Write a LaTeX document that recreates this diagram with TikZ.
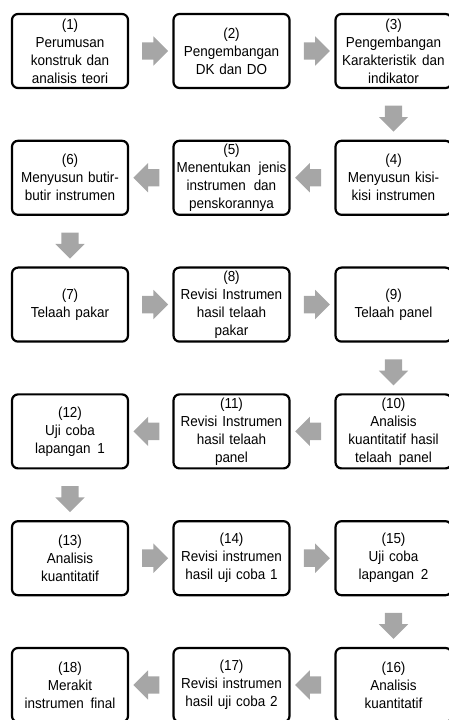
\documentclass[tikz,border=0pt]{standalone}
\usepackage{fontspec}
\setmainfont{Liberation Sans}[FakeStretch=0.93]
\usetikzlibrary{shapes.arrows,calc}
\definecolor{arrgray}{HTML}{A6A6A6}
\tikzset{
  stepbox/.style={draw=black, line width=2.2pt, rounded corners=6pt,
    minimum width=116pt, minimum height=74pt, text width=114pt,
    align=center, inner sep=0pt, font=\fontsize{14.5}{18}\selectfont},
  blk/.style={single arrow, fill=arrgray, draw=none, minimum height=26pt,
    minimum width=29pt, single arrow head extend=6pt, inner xsep=2pt,
    inner ysep=8.5pt, anchor=center}
}
\newcommand{\blkarrow}[3]{\node[blk, rotate=#3] (#1to#2) at ($(#1)!0.5!(#2)$) {};}
\begin{document}
\begin{tikzpicture}[x=1pt,y=1pt]
\useasboundingbox (0,0) rectangle (449,720);
\clip (0,0) rectangle (449,720);
\def\xa{70}\def\xb{231.5}\def\xc{393.5}
% row 1
\node[stepbox] (b1) at (\xa,669) {(1)\\Perumusan\\konstruk dan\\analisis teori};
\node[stepbox] (b2) at (\xb,669) {(2)\\Pengembangan\\DK dan DO};
\node[stepbox] (b3) at (\xc,669) {(3)\\Pengembangan\\Karakteristik\hspace{1pt} dan\\indikator};
% row 2
\node[stepbox] (b4) at (\xc,542.2) {(4)\\Menyusun kisi-\\kisi instrumen};
\node[stepbox] (b5) at (\xb,542.2) {(5)\\Menentukan\hspace{3pt} jenis\\instrumen\hspace{3pt} dan\\penskorannya};
\node[stepbox] (b6) at (\xa,542.2) {(6)\\Menyusun butir-\\butir instrumen};
% row 3
\node[stepbox] (b7) at (\xa,415.4) {(7)\\Telaah pakar};
\node[stepbox] (b8) at (\xb,415.4) {(8)\\Revisi Instrumen\\hasil telaah\\pakar};
\node[stepbox] (b9) at (\xc,415.4) {(9)\\Telaah panel};
% row 4
\node[stepbox] (b10) at (\xc,288.6) {(10)\\Analisis\\kuantitatif hasil\\telaah\hspace{2pt} panel};
\node[stepbox] (b11) at (\xb,288.6) {(11)\\Revisi Instrumen\\hasil telaah\\panel};
\node[stepbox] (b12) at (\xa,288.6) {(12)\\Uji coba\\lapangan\hspace{2pt} 1};
% row 5
\node[stepbox] (b13) at (\xa,161.8) {(13)\\Analisis\\kuantitatif};
\node[stepbox] (b14) at (\xb,161.8) {(14)\\Revisi instrumen\\hasil uji coba 1};
\node[stepbox] (b15) at (\xc,161.8) {(15)\\Uji coba\\lapangan\hspace{2pt} 2};
% row 6
\node[stepbox] (b16) at (\xc,35) {(16)\\Analisis\\kuantitatif};
\node[stepbox] (b17) at (\xb,35) {(17)\\Revisi instrumen\\hasil uji coba 2};
\node[stepbox] (b18) at (\xa,35) {(18)\\Merakit\\instrumen\hspace{2pt} final};
% arrows
\blkarrow{b1}{b2}{0}
\blkarrow{b2}{b3}{0}
\blkarrow{b3}{b4}{-90}
\blkarrow{b4}{b5}{180}
\blkarrow{b5}{b6}{180}
\blkarrow{b6}{b7}{-90}
\blkarrow{b7}{b8}{0}
\blkarrow{b8}{b9}{0}
\blkarrow{b9}{b10}{-90}
\blkarrow{b10}{b11}{180}
\blkarrow{b11}{b12}{180}
\blkarrow{b12}{b13}{-90}
\blkarrow{b13}{b14}{0}
\blkarrow{b14}{b15}{0}
\blkarrow{b15}{b16}{-90}
\blkarrow{b16}{b17}{180}
\blkarrow{b17}{b18}{180}
\end{tikzpicture}
\end{document}
